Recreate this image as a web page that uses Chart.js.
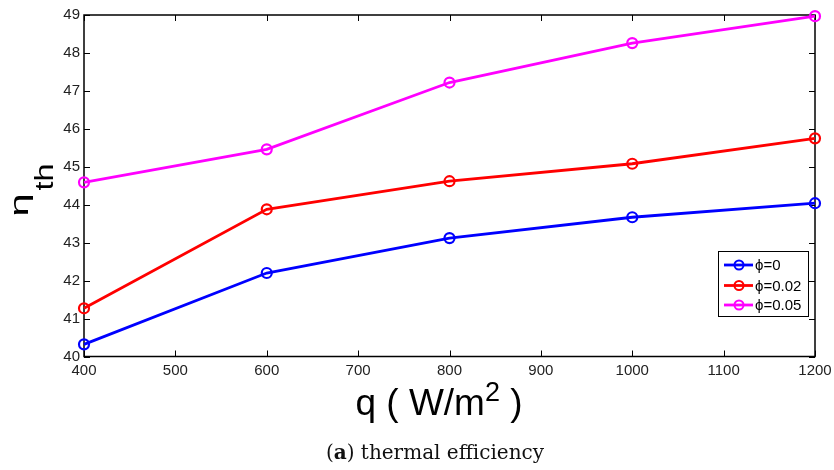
<!DOCTYPE html>
<html>
<head>
<meta charset="utf-8">
<script src="https://cdn.jsdelivr.net/npm/chart.js@4/dist/chart.umd.min.js"></script>
<style>
  html, body { margin: 0; padding: 0; background: #fff; }
  #wrap { position: relative; width: 834px; height: 470px; overflow: hidden; }
  #c { position: absolute; left: 0; top: 0; }
  .lab { position: absolute; font-family: "Liberation Sans", Arial, sans-serif; color: #000; white-space: nowrap; line-height: 1; }
  #xlab { left: 439px; top: 400px; font-size: 37px; transform: translate(-50%, -50%); }
  #xlab sup { font-size: 27px; vertical-align: 0.55em; }
  #cap { position: absolute; left: 435px; top: 452px; transform: translate(-50%, -50%); font-family: "DejaVu Serif", "Liberation Serif", serif; font-size: 20px; color: #111; white-space: nowrap; }
</style>
</head>
<body>
<div id="wrap">
  <canvas id="c" width="834" height="470"></canvas>
  <div class="lab" id="xlab">q ( W/m<sup>2</sup> )</div>
  <div id="cap">(<b>a</b>) thermal efficiency</div>
</div>
<script>
// ---- data ----
const qValues = [400, 600, 800, 1000, 1200];
const seriesLabels = ["ϕ=0", "ϕ=0.02", "ϕ=0.05"];
const phi0 = [40.32, 42.20, 43.12, 43.67, 44.04];
const phi002 = [41.27, 43.88, 44.62, 45.08, 45.75];
const phi005 = [44.59, 45.46, 47.22, 48.26, 48.97];
const seriesColors = ["#0000ff", "#ff0000", "#ff00ff"];
const xTicksMin = 400, xTicksMax = 1200, xStep = 100;
const yTicksMin = 40, yTicksMax = 49, yStep = 1;
const yTitleMain = "η", yTitleSub = "th";

const seriesValues = [phi0, phi002, phi005];

const datasets = seriesValues.map((vals, i) => ({
  label: seriesLabels[i],
  data: qValues.map((q, j) => ({ x: q, y: vals[j] })),
  borderColor: seriesColors[i],
  backgroundColor: seriesColors[i],
  borderWidth: 2.8,
  pointRadius: 5,
  pointBorderWidth: 2.2,
  pointBackgroundColor: "rgba(0,0,0,0)",
  pointBorderColor: seriesColors[i],
  tension: 0,
  clip: false
}));

const FONT = "'Liberation Sans', Arial, sans-serif";

const boxPlugin = {
  id: "boxPlugin",
  beforeDatasetsDraw(chart) {
    const { ctx, chartArea: a, scales } = chart;
    ctx.save();
    ctx.strokeStyle = "#000";
    ctx.lineWidth = 1.5;
    ctx.strokeRect(a.left, a.top, a.right - a.left, a.bottom - a.top);
    ctx.lineWidth = 1;
    const tl = 6;
    ctx.beginPath();
    scales.x.ticks.forEach(t => {
      const px = Math.round(scales.x.getPixelForValue(t.value)) + 0.5;
      ctx.moveTo(px, a.bottom); ctx.lineTo(px, a.bottom - tl);
      ctx.moveTo(px, a.top); ctx.lineTo(px, a.top + tl);
    });
    scales.y.ticks.forEach(t => {
      const py = Math.round(scales.y.getPixelForValue(t.value)) + 0.5;
      ctx.moveTo(a.left, py); ctx.lineTo(a.left + tl, py);
      ctx.moveTo(a.right, py); ctx.lineTo(a.right - tl, py);
    });
    ctx.stroke();
    ctx.restore();
  },
  afterDraw(chart) {
    const { ctx } = chart;
    // y axis title (rotated)
    ctx.save();
    ctx.fillStyle = "#000";
    ctx.textAlign = "center";
    ctx.textBaseline = "alphabetic";
    ctx.save();
    ctx.translate(28, 205);
    ctx.rotate(-Math.PI / 2);
    ctx.scale(1.6, 1);
    ctx.font = "26px " + FONT;
    ctx.fillText(yTitleMain, 0, 0);
    ctx.restore();
    ctx.save();
    ctx.translate(53, 177);
    ctx.rotate(-Math.PI / 2);
    ctx.scale(1.3, 1);
    ctx.font = "25px " + FONT;
    ctx.fillText(yTitleSub, 0, 0);
    ctx.restore();
    ctx.restore();

    // legend
    const bx = 718, by = 251, bw = 90, bh = 65;
    ctx.save();
    ctx.fillStyle = "#fff";
    ctx.fillRect(bx, by, bw, bh);
    ctx.strokeStyle = "#000";
    ctx.lineWidth = 1;
    ctx.strokeRect(bx + 0.5, by + 0.5, bw, bh);
    const rows = [265, 285.5, 305];
    chart.data.datasets.forEach((ds, i) => {
      const y = rows[i];
      ctx.strokeStyle = ds.borderColor;
      ctx.lineWidth = 2.8;
      ctx.beginPath();
      ctx.moveTo(724, y); ctx.lineTo(753, y);
      ctx.stroke();
      ctx.lineWidth = 2;
      ctx.beginPath();
      ctx.arc(739, y, 4.5, 0, Math.PI * 2);
      ctx.stroke();
      ctx.fillStyle = "#000";
      ctx.font = "15px " + FONT;
      ctx.textBaseline = "middle";
      ctx.textAlign = "left";
      ctx.fillText(ds.label, 755, y + 1);
    });
    ctx.restore();
  }
};

new Chart(document.getElementById("c"), {
  type: "line",
  data: { datasets },
  options: {
    responsive: false,
    animation: false,
    events: [],
    layout: { padding: { left: 0, top: 15, right: 19, bottom: 0 } },
    plugins: { legend: { display: false }, tooltip: { enabled: false } },
    scales: {
      x: {
        type: "linear",
        min: xTicksMin, max: xTicksMax,
        grid: { display: false, drawTicks: false },
        border: { display: false },
        ticks: {
          stepSize: xStep, padding: 5, color: "#222",
          font: { family: FONT, size: 15 },
          maxRotation: 0,
          callback: v => String(v)
        },
        afterFit(s) { s.height = 113.5; s.paddingLeft = 0; s.paddingRight = 0; }
      },
      y: {
        type: "linear",
        min: yTicksMin, max: yTicksMax,
        grid: { display: false, drawTicks: false },
        border: { display: false },
        ticks: {
          stepSize: yStep, padding: 4, color: "#222",
          font: { family: FONT, size: 15 },
          callback: v => String(v)
        },
        afterFit(s) { s.width = 84; s.paddingTop = 0; s.paddingBottom = 0; }
      }
    }
  },
  plugins: [boxPlugin]
});
</script>
</body>
</html>
